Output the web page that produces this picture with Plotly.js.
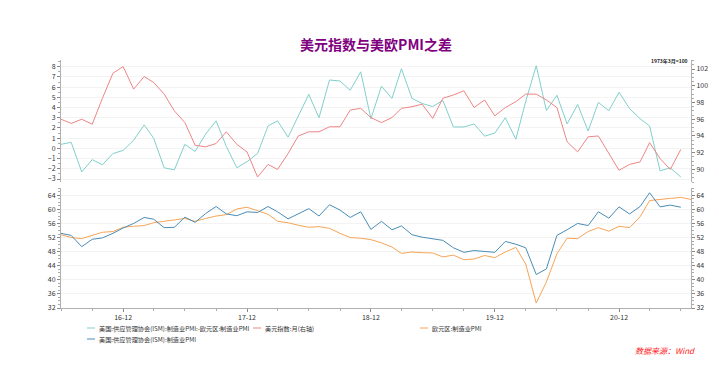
<!DOCTYPE html>
<html><head><meta charset="utf-8">
<script src="https://cdn.plot.ly/plotly-3.0.1.min.js"></script>
<style>html,body{margin:0;padding:0;background:#fff}#chart{width:719px;height:365px}</style>
</head><body><div id="chart"></div>
<script>
// monthly dates 2016-06 .. 2021-07
const months = ["2016-06","2016-07","2016-08","2016-09","2016-10","2016-11","2016-12",
"2017-01","2017-02","2017-03","2017-04","2017-05","2017-06","2017-07","2017-08","2017-09","2017-10","2017-11","2017-12",
"2018-01","2018-02","2018-03","2018-04","2018-05","2018-06","2018-07","2018-08","2018-09","2018-10","2018-11","2018-12",
"2019-01","2019-02","2019-03","2019-04","2019-05","2019-06","2019-07","2019-08","2019-09","2019-10","2019-11","2019-12",
"2020-01","2020-02","2020-03","2020-04","2020-05","2020-06","2020-07","2020-08","2020-09","2020-10","2020-11","2020-12",
"2021-01","2021-02","2021-03","2021-04","2021-05","2021-06","2021-07"];

// 美国:供应管理协会(ISM):制造业PMI:-欧元区:制造业PMI (left axis, top)
const pmiDiff = [0.4,0.6,-2.3,-1.1,-1.6,-0.5,-0.2,
0.8,2.3,1.0,-1.9,-2.1,0.4,-0.3,1.4,2.7,0.2,-1.9,-1.3,
-0.5,2.2,2.7,1.1,3.2,5.3,3.0,6.7,6.6,5.7,7.5,2.9,
6.1,4.9,7.8,4.9,4.4,4.1,4.7,2.1,2.1,2.4,1.2,1.5,
3.0,0.9,4.6,8.1,3.7,5.2,2.4,4.3,1.7,4.5,3.7,5.5,
3.9,2.9,2.2,-2.2,-1.9,-2.8];

// 美元指数:月 (right axis, top)
const dxy = [96.0,95.5,96.0,95.4,98.5,101.5,102.3,
99.6,101.1,100.4,99.0,97.0,95.6,92.9,92.7,93.1,94.5,93.0,92.1,
89.1,90.6,90.0,91.9,94.0,94.5,94.5,95.1,95.1,97.1,97.3,96.2,
95.6,96.2,97.3,97.5,97.8,96.1,98.5,98.9,99.4,97.4,98.3,96.4,
97.4,98.1,99.0,99.0,98.3,97.4,93.3,92.1,93.9,94.0,91.9,89.9,
90.6,90.9,93.2,91.3,90.0,92.4];

// 欧元区:制造业PMI (bottom, left)
const euroPmi = [52.8,52.0,51.7,52.6,53.5,53.7,54.9,
55.2,55.4,56.2,56.7,57.0,57.4,56.6,57.4,58.1,58.5,60.1,60.6,
59.6,58.6,56.6,56.2,55.5,54.9,55.1,54.6,53.2,52.0,51.8,51.4,
50.5,49.3,47.5,47.9,47.7,47.6,46.5,47.0,45.7,45.9,46.9,46.3,
47.9,49.2,44.5,33.4,39.4,47.4,51.8,51.7,53.7,54.8,53.8,55.2,
54.8,57.9,62.5,62.9,63.1,63.4,62.8];

// 美国:供应管理协会(ISM):制造业PMI (bottom, left)
const ismPmi = [53.2,52.6,49.4,51.5,51.9,53.2,54.7,
56.0,57.7,57.2,54.8,54.9,57.8,56.3,58.8,60.8,58.7,58.2,59.3,
59.1,60.8,59.3,57.3,58.7,60.2,58.1,61.3,59.8,57.7,59.3,54.3,
56.6,54.2,55.3,52.8,52.1,51.7,51.2,49.1,47.8,48.3,48.1,47.8,
50.9,50.1,49.1,41.5,43.1,52.6,54.2,56.0,55.4,59.3,57.5,60.7,
58.7,60.8,64.7,60.7,61.2,60.6];

const names = ["美国:供应管理协会(ISM):制造业PMI:-欧元区:制造业PMI","美元指数:月(右轴)","欧元区:制造业PMI","美国:供应管理协会(ISM):制造业PMI"];
const colors = ["#80d0cc","#ef8585","#f7a457","#4a8cb5"];

const x = months.map(m => m + "-01");
const F = "'Noto Sans CJK SC', 'Noto Sans', sans-serif";

const traces = [
  {x:x.slice(0,pmiDiff.length), y:pmiDiff, name:names[0], type:"scatter", mode:"lines", line:{color:colors[0], width:1}, xaxis:"x", yaxis:"y"},
  {x:x.slice(0,dxy.length), y:dxy, name:names[1], type:"scatter", mode:"lines", line:{color:colors[1], width:1}, xaxis:"x", yaxis:"y2"},
  {x:x.slice(0,euroPmi.length), y:euroPmi, name:names[2], type:"scatter", mode:"lines", line:{color:colors[2], width:1}, xaxis:"x", yaxis:"y3"},
  {x:x.slice(0,ismPmi.length), y:ismPmi, name:names[3], type:"scatter", mode:"lines", line:{color:colors[3], width:1}, xaxis:"x", yaxis:"y3"}
];

const W = 719, H = 365, L = 61, R = 28, T = 60, B = 57;
const pw = W - L - R, ph = H - T - B;
const px = v => (v - L) / pw;
const py = v => (H - B - v) / ph;

const yBase = {
  showline:true, linecolor:"#b0b0b0", linewidth:1,
  ticks:"outside", ticklen:3, tickcolor:"#888", tickwidth:1,
  tickfont:{size:7, color:"#333", family:F},
  zeroline:false, fixedrange:true
};

const layout = {
  width:W, height:H,
  margin:{l:L, r:R, t:T, b:B},
  paper_bgcolor:"#fff", plot_bgcolor:"#fff",
  showlegend:false,
  font:{family:F, size:7, color:"#333"},
  title:{text:"<b>美元指数与美欧PMI之差</b>", font:{size:14, color:"#800080", family:F}, x:0.5, xref:"paper", xanchor:"center", y:(H-45)/H, yref:"container", yanchor:"middle"},
  xaxis:{
    type:"date", range:["2016-06-01","2021-07-01"], anchor:"y3",
    showline:true, linecolor:"#b0b0b0", linewidth:1,
    ticks:"outside", ticklen:3, tickcolor:"#888",
    tick0:"2016-12-01", dtick:"M12", tickformat:"%y-%m",
    tickfont:{size:7, color:"#333", family:F},
    minor:{dtick:"M3", tick0:"2016-06-01", ticks:"outside", ticklen:2, tickcolor:"#aaa", showgrid:false},
    showgrid:false, zeroline:false, fixedrange:true
  },
  yaxis:Object.assign({}, yBase, {domain:[py(182),1], range:[-3.29,8.66], dtick:1, tick0:0,
    showgrid:true, gridcolor:"#f3f3f3",
    minor:{dtick:0.5, ticks:"outside", ticklen:2, tickcolor:"#aaa", showgrid:false}}),
  yaxis2:Object.assign({}, yBase, {overlaying:"y", side:"right", range:[88.5,103.08], dtick:2, tick0:90,
    showgrid:false,
    minor:{dtick:0.5, ticks:"outside", ticklen:2, tickcolor:"#aaa", showgrid:false}}),
  yaxis3:Object.assign({}, yBase, {domain:[0,py(187.5)], range:[32,66.2], dtick:4, tick0:32,
    showgrid:true, gridcolor:"#f3f3f3",
    minor:{dtick:1, ticks:"outside", ticklen:2, tickcolor:"#aaa", showgrid:false}}),
  yaxis4:Object.assign({}, yBase, {overlaying:"y3", side:"right", range:[32,66.2], dtick:4, tick0:32,
    showgrid:false,
    minor:{dtick:1, ticks:"outside", ticklen:2, tickcolor:"#aaa", showgrid:false}}),
  annotations:[],
  shapes:[]
};

// empty trace so the right axis of the bottom panel is drawn
traces.push({x:[x[0]], y:[null], xaxis:"x", yaxis:"y4", type:"scatter", mode:"lines", hoverinfo:"skip", showlegend:false});

// legend (drawn as annotations)
const legendItems = [
  {i:0, sx:87, y:328},
  {i:1, sx:253, y:328},
  {i:2, sx:420, y:328},
  {i:3, sx:87, y:339}
];
legendItems.forEach(it => {
  layout.shapes.push({type:"line", xref:"paper", yref:"paper", x0:px(it.sx), x1:px(it.sx+8), y0:py(it.y), y1:py(it.y), line:{color:colors[it.i], width:1}});
  layout.annotations.push({text:names[it.i], xref:"paper", yref:"paper", x:px(it.sx+9.5), y:py(it.y), xanchor:"left", yanchor:"middle", showarrow:false, font:{size:6.2, color:"#333", family:F}});
});

layout.annotations.push({text:"<b>1973年3月=100</b>", xref:"paper", yref:"paper", x:px(690), y:py(60.7), xanchor:"right", yanchor:"middle", showarrow:false, font:{size:5, color:"#222", family:F}});
layout.annotations.push({text:"<i>数据来源：Wind</i>", xref:"paper", yref:"paper", x:px(697), y:py(350), xanchor:"right", yanchor:"middle", showarrow:false, font:{size:8, color:"#ff2020", family:F}});

Plotly.newPlot("chart", traces, layout, {displayModeBar:false, staticPlot:true});
</script></body></html>
